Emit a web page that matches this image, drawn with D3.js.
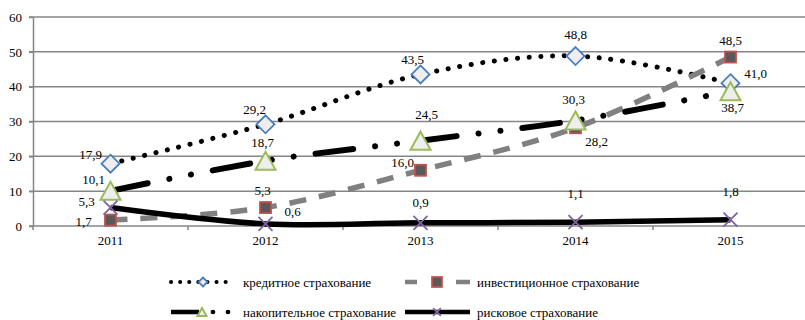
<!DOCTYPE html>
<html>
<head>
<meta charset="utf-8">
<script src="https://cdn.jsdelivr.net/npm/d3@7"></script>
<style>
  html, body { margin: 0; padding: 0; background: #fff; }
  svg { display: block; }
  svg text { font-family: "Liberation Serif", "Times New Roman", serif; }
</style>
</head>
<body>
<svg id="chart" width="805" height="320"></svg>
<script>
// Years on the category axis
const years = ["2011", "2012", "2013", "2014", "2015"];
// Value axis ticks
const yTicks = [0, 10, 20, 30, 40, 50, 60];

// Series values, billions of roubles
const creditValues     = [17.9, 29.2, 43.5, 48.8, 41.0];
const investmentValues = [1.7, 5.3, 16.0, 28.2, 48.5];
const savingsValues    = [10.1, 18.7, 24.5, 30.3, 38.7];
const riskValues       = [5.3, 0.6, 0.9, 1.1, 1.8];

const seriesNames = [
  "кредитное страхование",
  "инвестиционное страхование",
  "накопительное страхование",
  "рисковое страхование"
];

// Label placement relative to each point (dx, dy)
const labelShift = [
  [[-20, -9], [-11, -15], [-8, -15], [0, -22], [25, -10]],
  [[-27, 1], [-3, -17], [-18, -8], [21, 14], [0, -17]],
  [[-17, -11], [-3, -18], [6, -26], [-2, -21], [2, 16]],
  [[-24, -6], [27, -12], [0, -20], [0, -29], [0, -28]]
];

const FONT = "Liberation Serif";
const svg = d3.select("#chart");
const x = d3.scaleBand().domain(years).range([33, 808]);
const y = d3.scaleLinear().domain([0, 60]).range([226, 17]);
const cx = d => x(d) + x.bandwidth() / 2;

const gridColor = "#868686";

// Horizontal gridlines
svg.append("g")
  .selectAll("line")
  .data(yTicks)
  .join("line")
  .attr("x1", 29).attr("x2", 808)
  .attr("y1", d => y(d)).attr("y2", d => y(d))
  .attr("stroke", gridColor).attr("stroke-width", 1.5);

// Value axis
const yAxis = svg.append("g")
  .attr("transform", "translate(33,0)")
  .call(d3.axisLeft(y).tickValues(yTicks).tickSizeInner(4).tickSizeOuter(0).tickPadding(7))
  .attr("font-family", FONT);
yAxis.select(".domain").attr("stroke", gridColor).attr("stroke-width", 1.5);
yAxis.selectAll(".tick line").attr("stroke", gridColor).attr("stroke-width", 1.5);
yAxis.selectAll("text").attr("font-size", 13).attr("fill", "#000").attr("font-family", FONT);

// Category axis: labels at band centres, tick marks at band edges
const xAxis = svg.append("g")
  .attr("transform", `translate(0,${y(0)})`)
  .call(d3.axisBottom(x).tickSize(0).tickPadding(10))
  .attr("font-family", FONT);
xAxis.select(".domain").remove();
xAxis.selectAll("text").attr("font-size", 13).attr("fill", "#000").attr("font-family", FONT);
svg.append("g")
  .selectAll("line")
  .data(years.map(d => x(d)))
  .join("line")
  .attr("x1", d => d).attr("x2", d => d)
  .attr("y1", y(0)).attr("y2", y(0) + 4)
  .attr("stroke", gridColor).attr("stroke-width", 1.5);

// Line and marker styles for each series
const styles = [
  { color: "#000", width: 5, dash: "0.1,11.6", cap: "round", marker: "diamond" },
  { color: "#808080", width: 5.5, dash: "17,13", cap: "butt", marker: "square" },
  { color: "#000", width: 6, dash: "38,22,0.1,22,0.1,22", cap: "round", marker: "triangle" },
  { color: "#000", width: 5.5, dash: null, cap: "butt", marker: "cross" }
];

function drawMarker(g, type, px, py, scale = 1) {
  if (type === "diamond") {
    const r = 9 * scale;
    g.append("path")
      .attr("d", `M${px},${py - r}L${px + r},${py}L${px},${py + r}L${px - r},${py}Z`)
      .attr("fill", "#eeeeee").attr("stroke", "#4a7ebb").attr("stroke-width", 1.8);
  } else if (type === "square") {
    const s = 11 * scale;
    g.append("rect")
      .attr("x", px - s / 2).attr("y", py - s / 2).attr("width", s).attr("height", s)
      .attr("fill", "#595959").attr("stroke", "#c0504d").attr("stroke-width", 1.8);
  } else if (type === "triangle") {
    const w = 10 * scale, h = 9 * scale;
    g.append("path")
      .attr("d", `M${px},${py - h}L${px + w},${py + h}L${px - w},${py + h}Z`)
      .attr("fill", "#eeeeee").attr("stroke", "#9bbb59").attr("stroke-width", 2);
  } else {
    const r = 7 * scale;
    g.append("path")
      .attr("d", `M${px - r},${py - r}L${px + r},${py + r}M${px - r},${py + r}L${px + r},${py - r}`)
      .attr("fill", "none").attr("stroke", "#8064a2").attr("stroke-width", 1.8);
  }
}

const allValues = [creditValues, investmentValues, savingsValues, riskValues];
const line = d3.line()
  .x((d, i) => cx(years[i]))
  .y(d => y(d))
  .curve(d3.curveCardinal.tension(0));
const fmt = v => d3.format(".1f")(v).replace(".", ",");

allValues.forEach((vals, si) => {
  const st = styles[si];
  const g = svg.append("g");
  const p = g.append("path")
    .attr("d", line(vals))
    .attr("fill", "none")
    .attr("stroke", st.color)
    .attr("stroke-width", st.width)
    .attr("stroke-linecap", st.cap)
    .attr("stroke-linejoin", "round");
  if (st.dash) p.attr("stroke-dasharray", st.dash);
  vals.forEach((v, i) => drawMarker(g, st.marker, cx(years[i]), y(v)));
});

// Data labels on top
allValues.forEach((vals, si) => {
  svg.append("g")
    .selectAll("text")
    .data(vals)
    .join("text")
    .attr("x", (d, i) => cx(years[i]) + labelShift[si][i][0])
    .attr("y", (d, i) => y(d) + labelShift[si][i][1])
    .attr("text-anchor", "middle")
    .attr("dominant-baseline", "central")
    .attr("font-family", FONT)
    .attr("font-size", 13)
    .attr("fill", "#000")
    .text(fmt);
});

// Legend
const legendItems = [
  { x0: 171, x1: 233, y: 282, tx: 243 },
  { x0: 405, x1: 470, y: 282, tx: 477 },
  { x0: 171, x1: 233, y: 312, tx: 243 },
  { x0: 405, x1: 470, y: 312, tx: 477 }
];
const legendDash = ["0.1,9", "12,39,14", "28,11,0.1,15,0.1,15", null];
const legendCap = ["round", "butt", "butt", "butt"];
const legendMarkerX = [203, 437, 202, 437];
const legendMarkerScale = [0.5, 0.9, 0.45, 0.55];

legendItems.forEach((it, si) => {
  const st = styles[si];
  const g = svg.append("g");
  const ln = g.append("line")
    .attr("x1", it.x0).attr("x2", it.x1)
    .attr("y1", it.y).attr("y2", it.y)
    .attr("stroke", st.color)
    .attr("stroke-width", si === 0 ? 4 : 4.5)
    .attr("stroke-linecap", legendCap[si]);
  if (legendDash[si]) ln.attr("stroke-dasharray", legendDash[si]);
  if (si === 2) {
    // round dots following the solid part of the sample
    g.selectAll("circle.dot").data([213, 228]).join("circle")
      .attr("cx", d => d).attr("cy", it.y).attr("r", 2.3).attr("fill", "#000");
  }
  drawMarker(g, st.marker, legendMarkerX[si], it.y, legendMarkerScale[si]);
  g.append("text")
    .attr("x", it.tx).attr("y", it.y)
    .attr("dominant-baseline", "central")
    .attr("font-family", FONT)
    .attr("font-size", 13)
    .attr("fill", "#000")
    .text(seriesNames[si]);
});
</script>
</body>
</html>
